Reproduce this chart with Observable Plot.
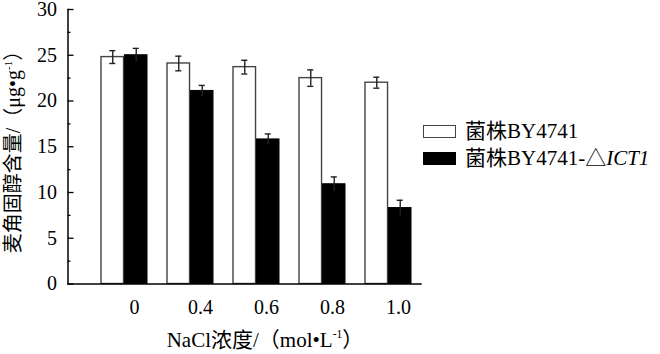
<!DOCTYPE html>
<html>
<head>
<meta charset="utf-8">
<script src="https://cdn.jsdelivr.net/npm/d3@7"></script>
<script src="https://cdn.jsdelivr.net/npm/@observablehq/plot@0.6"></script>
<style>
  html, body { margin: 0; padding: 0; background: #fff; }
  #wrap { position: relative; width: 660px; height: 354px; font-family: "Liberation Serif", "Noto Sans CJK SC", serif; color: #000; }
  #wrap svg { position: absolute; left: 0; top: 0; }
  .ylabel { position: absolute; left: 13px; top: 147px; transform: translate(-50%, -50%) rotate(-90deg); white-space: nowrap; font-size: 20px; line-height: 1; }
  .xlabel { position: absolute; left: 265px; top: 340px; transform: translate(-50%, -50%); white-space: nowrap; font-size: 21px; line-height: 1; }
  sup { font-size: 0.55em; vertical-align: 0.75em; line-height: 0; }
  .legend { position: absolute; left: 423px; top: 118px; font-size: 21px; line-height: 27px; }
  .legend .row { display: flex; align-items: center; white-space: nowrap; }
  .legend .sw { width: 31px; height: 11px; border: 1.3px solid #444; margin-right: 9px; box-sizing: content-box; }
</style>
</head>
<body>
<div id="wrap"></div>
<script>
// ---- data ----
const groups = ["0", "0.4", "0.6", "0.8", "1.0"];
const wildValues = [24.8, 24.1, 23.7, 22.5, 22.0];
const wildErrors = [0.7, 0.8, 0.75, 0.9, 0.6];
const mutantValues = [25.0, 21.1, 15.8, 10.9, 8.3];
const mutantErrors = [0.75, 0.6, 0.6, 0.8, 0.85];
const seriesNames = ["菌株BY4741", "菌株BY4741-△"];
const mutantSuffix = "ICT1";
const yTicks = [0, 5, 10, 15, 20, 25, 30];
const yMinorTicks = [2.5, 7.5, 12.5, 17.5, 22.5, 27.5];

// ---- layout ----
const W = 660, H = 354;
const mL = 67.5, mR = 238.3, mT = 9, mB = 70.5;
const pIn = 0.296, pOut = 0.305, align = 0.762;
const frameW = W - mL - mR;
const step = frameW / (groups.length - pIn + 2 * pOut);
const bw = step * (1 - pIn);
const half = bw / 2;
const capW = 7;

const wild = groups.map((g, i) => ({group: g, value: wildValues[i], err: wildErrors[i]}));
const mutant = groups.map((g, i) => ({group: g, value: mutantValues[i], err: mutantErrors[i]}));

const plot = Plot.plot({
  width: W, height: H,
  marginLeft: mL, marginRight: mR, marginTop: mT, marginBottom: mB,
  style: {fontFamily: "'Liberation Serif', 'Noto Sans CJK SC', serif", background: "transparent", color: "#000"},
  x: {type: "band", domain: groups, paddingInner: pIn, paddingOuter: pOut, align, axis: null},
  y: {domain: [0, 30], axis: null},
  marks: [
    Plot.barY(wild, {x: "group", y: "value", fill: "#fff", stroke: "#444", strokeWidth: 1.4, insetRight: half}),
    Plot.barY(mutant, {x: "group", y: "value", fill: "#000", stroke: "#000", strokeWidth: 1, insetLeft: half}),
    // error bars
    Plot.ruleX(wild, {x: "group", y1: d => d.value - d.err, y2: d => d.value + d.err, dx: -half / 2, stroke: "#222", strokeWidth: 1.4}),
    Plot.tickY(wild, {x: "group", y: d => d.value + d.err, insetLeft: half / 2 - capW / 2, insetRight: bw - half / 2 - capW / 2, stroke: "#222", strokeWidth: 1.4}),
    Plot.tickY(wild, {x: "group", y: d => d.value - d.err, insetLeft: half / 2 - capW / 2, insetRight: bw - half / 2 - capW / 2, stroke: "#222", strokeWidth: 1.4}),
    Plot.ruleX(mutant, {x: "group", y1: d => d.value - d.err, y2: d => d.value + d.err, dx: half / 2, stroke: "#222", strokeWidth: 1.4}),
    Plot.tickY(mutant, {x: "group", y: d => d.value + d.err, insetLeft: bw - half / 2 - capW / 2, insetRight: half / 2 - capW / 2, stroke: "#222", strokeWidth: 1.4}),
    // axes
    Plot.ruleY([0], {stroke: "#000", strokeWidth: 1.5}),
    Plot.frame({anchor: "left", stroke: "#000", strokeWidth: 1.5}),
    Plot.tickY(yTicks, {y: d => d, insetRight: frameW - 6, stroke: "#000", strokeWidth: 1.3}),
    Plot.tickY(yMinorTicks, {y: d => d, insetRight: frameW - 3, stroke: "#000", strokeWidth: 1.3}),
    Plot.text(yTicks, {y: d => d, text: d => String(d), frameAnchor: "left", dx: -11, textAnchor: "end", fontSize: 20, fill: "#000"}),
    Plot.text(groups, {x: d => d, y: () => 0, text: d => d, dx: 10, dy: 24, fontSize: 20, fill: "#000"})
  ]
});

const wrap = document.getElementById("wrap");
wrap.appendChild(plot);

const yl = document.createElement("div");
yl.className = "ylabel";
yl.innerHTML = "麦角固醇含量/（μg•g<sup>-1</sup>）";
wrap.appendChild(yl);

const xl = document.createElement("div");
xl.className = "xlabel";
xl.innerHTML = "NaCl浓度/（mol•L<sup>-1</sup>）";
wrap.appendChild(xl);

const lg = document.createElement("div");
lg.className = "legend";
lg.innerHTML =
  `<div class="row"><span class="sw" style="background:#fff"></span><span>${seriesNames[0]}</span></div>` +
  `<div class="row"><span class="sw" style="background:#000;border-color:#000"></span><span>${seriesNames[1]}<i>${mutantSuffix}</i></span></div>`;
wrap.appendChild(lg);
</script>
</body>
</html>
